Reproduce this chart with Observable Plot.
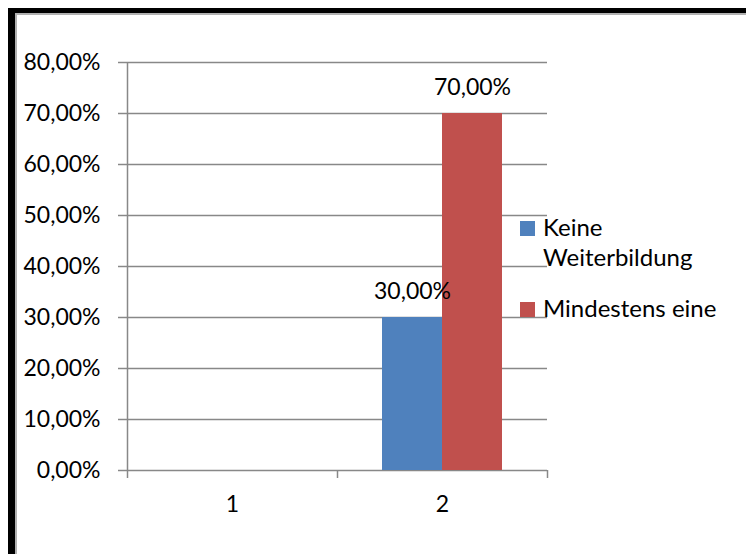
<!DOCTYPE html>
<html><head><meta charset="utf-8">
<script src="https://cdn.jsdelivr.net/npm/d3@7"></script>
<script src="https://cdn.jsdelivr.net/npm/@observablehq/plot@0.6"></script>
<style>
body{margin:0;background:#fff;}
#wrap{position:relative;width:746px;height:554px;overflow:hidden;font-family:Lato,"Open Sans",sans-serif;background:#fff;}
#frame{position:absolute;left:8px;top:8px;width:800px;height:600px;border-left:7px solid #000;border-top:5px solid #000;}
#frame2{position:absolute;left:15px;top:13px;width:800px;height:600px;border-left:2px solid #b0b0b0;border-top:2px solid #b0b0b0;}
#chart{position:absolute;left:0;top:0;}
.lg{position:absolute;font-size:24px;line-height:30px;color:#000;white-space:pre-line;}
.sw{position:absolute;width:15px;height:15px;}
</style></head>
<body><div id="wrap"><div id="frame"></div><div id="frame2"></div><div id="chart"></div><div id="legend"></div></div>
<script>
// ---- data ----
const categories = ["1", "2"];
const series = ["Keine Weiterbildung", "Mindestens eine"];
const legendLabels = ["Keine\nWeiterbildung", "Mindestens eine"];
const keine = [null, 0.30];
const mindestens = [null, 0.70];
const colors = ["#4F81BD", "#C0504D"];
const yTicks = [0, 0.1, 0.2, 0.3, 0.4, 0.5, 0.6, 0.7, 0.8];

const fmt = d3.formatLocale({decimal: ",", thousands: ".", grouping: [3], currency: ["", "\u00a0€"]}).format(".2%");
const values = [keine, mindestens];
const rows = [];
categories.forEach((c, i) => values.forEach((arr, j) => {
  if (arr[i] != null) rows.push({i, j, cat: c, series: series[j], value: arr[i]});
}));
// group layout inside each category slot (fractions of slot)
const pad = 45 / 210, bw = 60 / 210;
const grid = "#888888";
const n = categories.length;
const fs = 23;

const chart = Plot.plot({
  width: 746, height: 554,
  marginLeft: 127, marginRight: 199, marginTop: 62, marginBottom: 84,
  style: {fontFamily: "Lato, 'Open Sans', sans-serif", fontSize: fs + "px", color: "#000", background: "transparent", overflow: "visible"},
  x: {domain: [0, n], axis: null},
  y: {domain: [0, 0.8], axis: null},
  color: {domain: series, range: colors},
  marks: [
    Plot.ruleY(yTicks, {x1: 0, x2: n, stroke: grid, strokeWidth: 1.5}),
    Plot.ruleX([0], {y1: 0, y2: 0.8, stroke: grid, strokeWidth: 1.5}),
    Plot.axisY({ticks: yTicks, tickSize: 9, tickPadding: 18, tickFormat: fmt, stroke: grid, strokeWidth: 1.5, fill: "#000", label: null}),
    Plot.axisX({ticks: d3.range(n + 1), tickSize: 8, tickFormat: () => "", stroke: grid, strokeWidth: 1.5, label: null}),
    Plot.axisX({ticks: categories.map((c, i) => i + 0.5), tickSize: 0, tickPadding: 25, tickFormat: d => categories[Math.floor(d)], fill: "#000", label: null}),
    Plot.rectY(rows, {x1: d => d.i + pad + d.j * bw, x2: d => d.i + pad + (d.j + 1) * bw, y: "value", fill: "series"}),
    Plot.text(rows, {x: d => d.i + pad + (d.j + 0.5) * bw, y: "value", text: d => fmt(d.value), lineAnchor: "bottom", dy: -19, fill: "#000", fontSize: fs})
  ]
});
document.getElementById("chart").appendChild(chart);

// legend
const lg = document.getElementById("legend");
const legendTops = [221, 302];
series.forEach((s, j) => {
  const sw = document.createElement("div");
  sw.className = "sw";
  sw.style.left = "520px"; sw.style.top = legendTops[j] + "px"; sw.style.background = colors[j];
  lg.appendChild(sw);
  const t = document.createElement("div");
  t.className = "lg";
  t.style.left = "543px"; t.style.top = (legendTops[j] - 9) + "px";
  t.textContent = legendLabels[j];
  lg.appendChild(t);
});
</script>
</body></html>
